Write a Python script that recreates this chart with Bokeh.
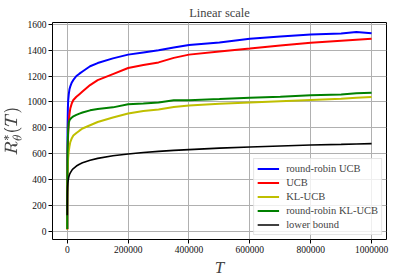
from bokeh.plotting import figure
from bokeh.models import Legend, LegendItem, Range1d, FixedTicker, NumeralTickFormatter, TeX
from bokeh.embed import file_html
from bokeh.resources import INLINE

T = [10, 100, 500, 1000, 2000, 3000, 5000, 7500, 10000, 15000, 20000, 30000, 40000,
     50000, 75000, 100000, 150000, 200000, 250000, 300000, 350000, 400000, 500000,
     600000, 700000, 800000, 900000, 950000, 1000000]

rr_ucb = [20, 250, 600, 800, 950, 1010, 1060, 1100, 1120, 1150, 1170, 1200, 1218,
          1235, 1275, 1300, 1336, 1365, 1382, 1398, 1420, 1440, 1458,
          1488, 1505, 1520, 1528, 1540, 1530]
ucb = [15, 180, 420, 550, 680, 760, 850, 910, 950, 990, 1015, 1040, 1060,
       1080, 1130, 1168, 1215, 1262, 1285, 1305, 1340, 1365, 1390,
       1412, 1435, 1456, 1472, 1480, 1487]
kl_ucb = [15, 150, 350, 430, 520, 570, 620, 660, 690, 720, 740, 760, 778,
          795, 820, 845, 880, 910, 930, 942, 960, 972, 985,
          995, 1005, 1015, 1025, 1032, 1038]
rr_kl_ucb = [20, 250, 500, 620, 720, 780, 840, 858, 868, 880, 888, 900, 910,
             918, 935, 945, 958, 982, 987, 995, 1012, 1012, 1022,
             1033, 1040, 1052, 1058, 1066, 1070]
lower = [125, 226, 305, 338, 372, 392, 420, 440, 452, 472, 486, 505, 519,
         530, 550, 564, 584, 598, 609, 618, 626, 632, 643,
         652, 660, 667, 672, 675, 678]

series = [("round-robin UCB", rr_ucb, "#0000ff", 2),
          ("UCB", ucb, "#ff0000", 2),
          ("KL-UCB", kl_ucb, "#bfbf00", 2),
          ("round-robin KL-UCB", rr_kl_ucb, "#008000", 2),
          ("lower bound", lower, "#000000", 1.6)]

x_ticks = [0, 200000, 400000, 600000, 800000, 1000000]
y_ticks = [0, 200, 400, 600, 800, 1000, 1200, 1400, 1600]

FONT = "Liberation Serif"

p = figure(output_backend="svg", toolbar_location=None,
           frame_width=334, frame_height=217,
           x_range=Range1d(-48500, 1049000), y_range=Range1d(-62, 1613),
           min_border_left=47, min_border_right=9, min_border_top=22, min_border_bottom=33)
p.background_fill_color = "white"
p.border_fill_color = "white"
p.outline_line_color = "black"
p.outline_line_width = 1

p.title.text = "Linear scale"
p.title.align = "center"
p.title.text_font = FONT
p.title.text_font_style = "normal"
p.title.text_font_size = "12.5px"
p.title.standoff = 5
p.title.offset = 0

items = []
for name, vals, color, w in series:
    r = p.line(T, vals, line_color=color, line_width=w)
    items.append(LegendItem(label=name, renderers=[r]))

for ax, ticks in ((p.xaxis[0], x_ticks), (p.yaxis[0], y_ticks)):
    ax.ticker = FixedTicker(ticks=ticks)
    ax.formatter = NumeralTickFormatter(format="0")
    ax.major_label_text_font = FONT
    ax.major_label_text_font_size = "9.5px"
    ax.major_label_text_color = "#111111"
    ax.major_tick_out = 4
    ax.major_tick_in = 0
    ax.minor_tick_out = 0
    ax.minor_tick_in = 0
    ax.axis_line_color = None
    ax.major_tick_line_color = "black"
    ax.major_label_standoff = 2
    ax.axis_label_text_font = FONT
    ax.axis_label_text_font_style = "italic"
    ax.axis_label_text_font_size = "17px"

p.xaxis.axis_label = "T"
p.xaxis.axis_label_standoff = 2
p.yaxis.axis_label = TeX(text=r"R^*_\theta(T)")
p.yaxis.axis_label_standoff = 2

p.xgrid.grid_line_color = "#b0b0b0"
p.ygrid.grid_line_color = "#b0b0b0"
p.xgrid.grid_line_width = 1
p.ygrid.grid_line_width = 1

legend = Legend(items=items, location="bottom_right")
legend.label_text_font = FONT
legend.label_text_font_size = "10.5px"
legend.glyph_width = 22
legend.glyph_height = 13
legend.label_height = 13
legend.spacing = 1
legend.padding = 3
legend.margin = 4
legend.label_standoff = 7
legend.border_line_color = "#cccccc"
legend.background_fill_alpha = 0.8
p.add_layout(legend)

open("out.html", "w").write(file_html(p, INLINE))
